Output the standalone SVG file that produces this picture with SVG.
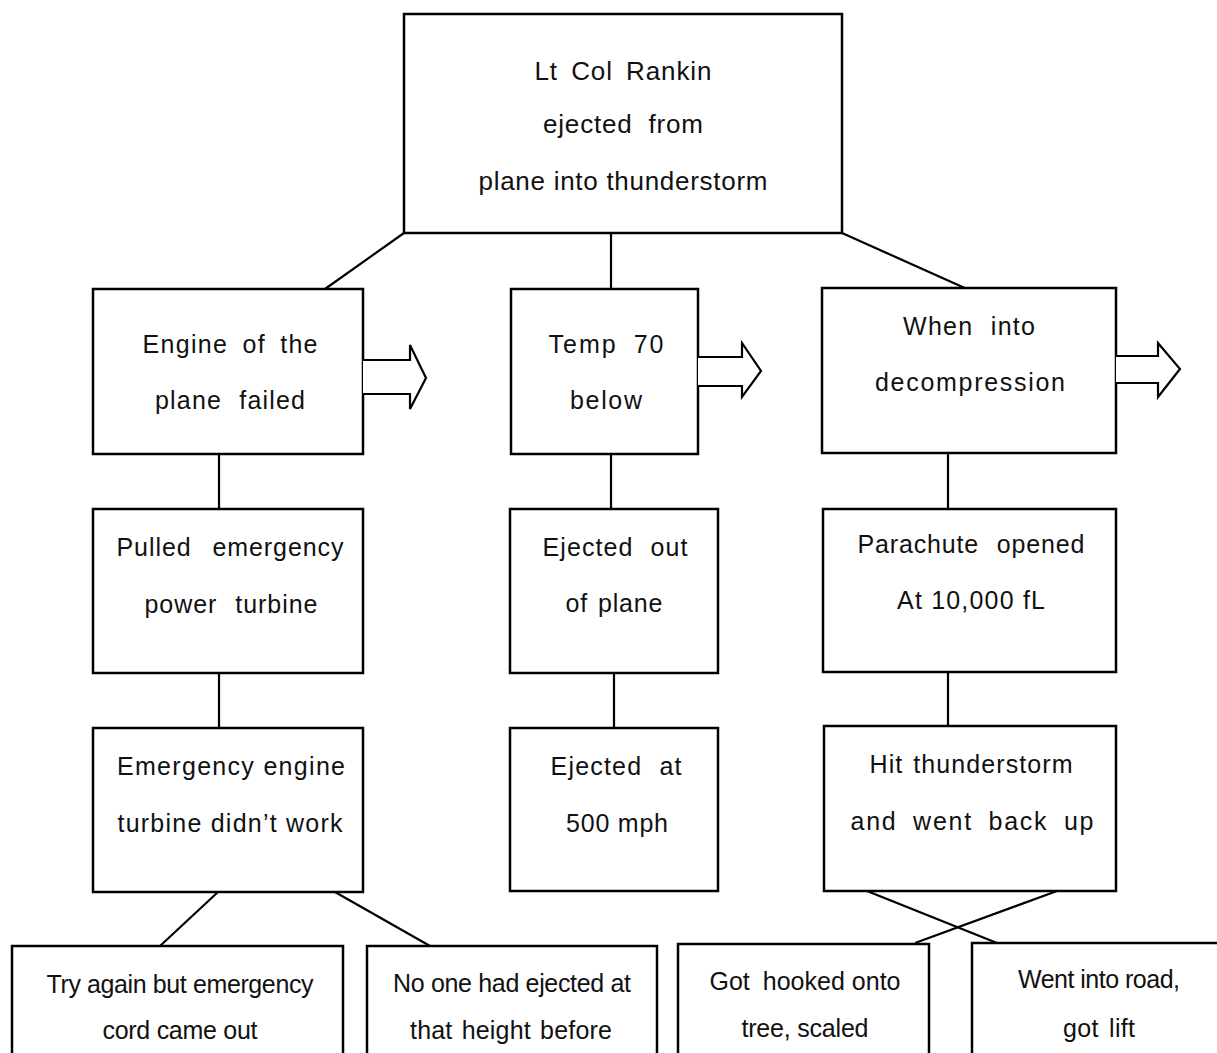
<svg xmlns="http://www.w3.org/2000/svg" width="1217" height="1053" viewBox="0 0 1217 1053">
<style>
rect.box{fill:#fff;stroke:#000;stroke-width:2.5}
.conn line{stroke:#000;stroke-width:2.2}
path.arr{fill:#fff;stroke:#000;stroke-width:2.2;stroke-linejoin:miter}
text{font-family:"Liberation Sans",Arial,sans-serif;font-size:25px;fill:#111;text-anchor:middle}
text.big{font-size:26px}
</style>
<rect width="1217" height="1053" fill="#fff"/>
<g id="connectors" class="conn">
<line x1="404" y1="233" x2="325" y2="289"/>
<line x1="611" y1="233" x2="611" y2="289"/>
<line x1="842" y1="233" x2="967" y2="289"/>
<line x1="219" y1="454" x2="219" y2="509"/>
<line x1="219" y1="673" x2="219" y2="728"/>
<line x1="611" y1="454" x2="611" y2="509"/>
<line x1="614" y1="673" x2="614" y2="728"/>
<line x1="948" y1="453" x2="948" y2="509"/>
<line x1="948" y1="672" x2="948" y2="726"/>
<line x1="218" y1="892" x2="160" y2="946"/>
<line x1="335" y1="892" x2="430" y2="946"/>
<line x1="867" y1="891" x2="997" y2="943"/>
<line x1="1057" y1="891" x2="915" y2="943"/>
</g>
<g id="n_top">
<rect class="box" x="404" y="14" width="438" height="219"/>
<text class="big" x="623" y="80" word-spacing="5" textLength="177">Lt Col Rankin</text>
<text class="big" x="623" y="133" word-spacing="8" textLength="160">ejected from</text>
<text class="big" x="623" y="190" textLength="289">plane into thunderstorm</text>
</g>
<g id="n_engine">
<rect class="box" x="93" y="289" width="270" height="165"/>
<text x="230" y="353" word-spacing="6" textLength="175">Engine of the</text>
<text x="230" y="409" word-spacing="9" textLength="150">plane failed</text>
</g>
<path class="arr" d="M363,360 H410 V345 L426,378 L410,409 V394 H363"/>
<g id="n_temp">
<rect class="box" x="511" y="289" width="187" height="165"/>
<text x="606" y="353" word-spacing="7" textLength="115">Temp 70</text>
<text x="606" y="409" textLength="72">below</text>
</g>
<path class="arr" d="M698,357 H742 V343 L761,371 L742,397 V386 H698"/>
<g id="n_when">
<rect class="box" x="822" y="288" width="294" height="165"/>
<text x="969" y="335" word-spacing="9" textLength="132">When into</text>
<text x="970" y="391" textLength="190">decompression</text>
</g>
<path class="arr" d="M1116,356 H1158 V343 L1180,369 L1158,397 V383 H1116"/>
<g id="n_pulled">
<rect class="box" x="93" y="509" width="270" height="164"/>
<text x="230" y="556" word-spacing="13" textLength="227">Pulled emergency</text>
<text x="231" y="613" word-spacing="10" textLength="173">power turbine</text>
</g>
<g id="n_ejout">
<rect class="box" x="510" y="509" width="208" height="164"/>
<text x="615" y="556" word-spacing="9" textLength="145">Ejected out</text>
<text x="614" y="612" word-spacing="2" textLength="97">of plane</text>
</g>
<g id="n_para">
<rect class="box" x="823" y="509" width="293" height="163"/>
<text x="971" y="553" word-spacing="10" textLength="227">Parachute opened</text>
<text x="971" y="609" textLength="148">At 10,000 fL</text>
</g>
<g id="n_emeng">
<rect class="box" x="93" y="728" width="270" height="164"/>
<text x="231" y="775" textLength="228">Emergency engine</text>
<text x="230" y="832" textLength="225">turbine didn’t work</text>
</g>
<g id="n_ejat">
<rect class="box" x="510" y="728" width="208" height="163"/>
<text x="616" y="775" word-spacing="9" textLength="131">Ejected at</text>
<text x="617" y="832" textLength="102">500 mph</text>
</g>
<g id="n_hit">
<rect class="box" x="824" y="726" width="292" height="165"/>
<text x="971" y="773" word-spacing="2" textLength="203">Hit thunderstorm</text>
<text x="972" y="830" word-spacing="7" textLength="243">and went back up</text>
</g>
<g id="n_try">
<rect class="box" x="12" y="946" width="331" height="120"/>
<text x="180" y="993" textLength="267">Try again but emergency</text>
<text x="180" y="1039" textLength="155">cord came out</text>
</g>
<g id="n_noone">
<rect class="box" x="367" y="946" width="290" height="120"/>
<text x="512" y="992" textLength="238">No one had ejected at</text>
<text x="511" y="1039" word-spacing="2" textLength="202">that height before</text>
</g>
<g id="n_got">
<rect class="box" x="678" y="944" width="251" height="120"/>
<text x="805" y="990" textLength="191">Got<tspan dx="6"> hooked onto</tspan></text>
<text x="805" y="1037" textLength="127">tree, scaled</text>
</g>
<g id="n_went">
<rect class="box" x="972" y="943" width="260" height="120"/>
<text x="1099" y="988" textLength="162">Went into road,</text>
<text x="1099" y="1037" word-spacing="3" textLength="72">got lift</text>
</g>
</svg>
